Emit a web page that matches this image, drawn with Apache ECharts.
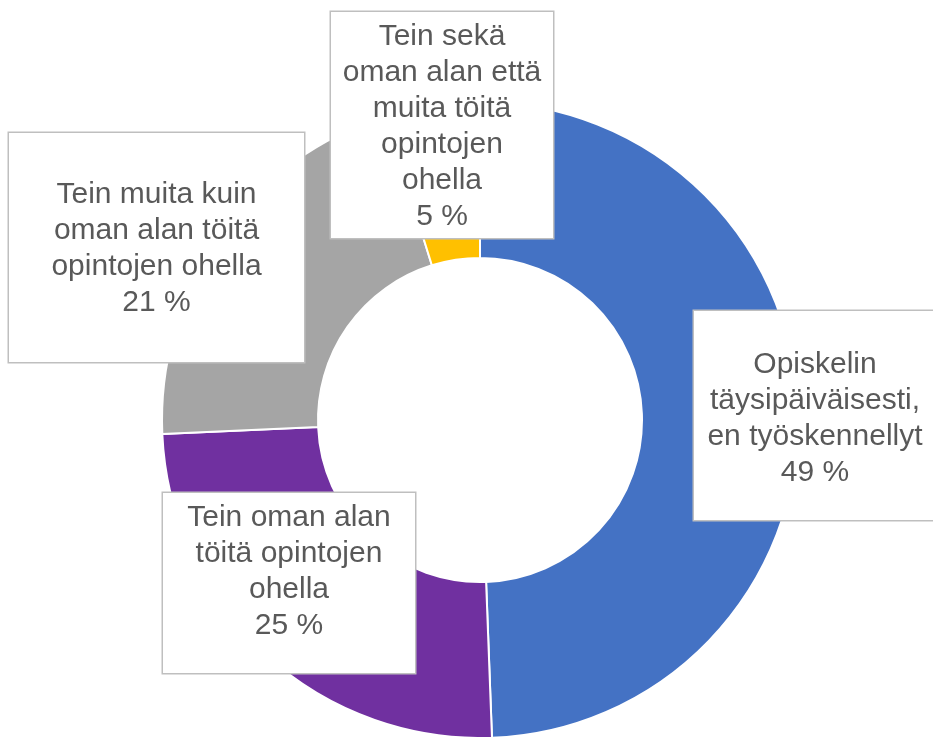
<!DOCTYPE html>
<html>
<head>
<meta charset="utf-8">
<script src="https://cdn.jsdelivr.net/npm/echarts@6/dist/echarts.min.js"></script>
<style>
html,body{margin:0;padding:0;background:#fff;}
#chart{width:933px;height:737px;}
</style>
</head>
<body>
<div id="chart"></div>
<script>
// Data
const categories = [
  'Opiskelin\ntäysipäiväisesti,\nen työskennellyt',
  'Tein oman alan\ntöitä opintojen\nohella',
  'Tein muita kuin\noman alan töitä\nopintojen ohella',
  'Tein sekä\noman alan että\nmuita töitä\nopintojen\nohella'
];
const values = [49.4, 24.9, 20.9, 4.8];

// Styles / positions (not data)
const colors = ['#4472C4', '#7030A0', '#A5A5A5', '#FFC000'];
const labelBoxes = [
  { x: 694, y: 311, w: 242, pt: 36, pb: 29 },
  { x: 163, y: 493, w: 252, pt: 7, pb: 29 },
  { x: 9,   y: 133, w: 295, pt: 44, pb: 41 },
  { x: 331, y: 12,  w: 222, pt: 7, pb: 3 }
];

const chart = echarts.init(document.getElementById('chart'), null, { renderer: 'canvas' });

const data = categories.map((name, i) => ({
  name: name,
  value: values[i],
  itemStyle: { color: colors[i] },
  label: {
    width: labelBoxes[i].w,
    padding: [labelBoxes[i].pt, 0, labelBoxes[i].pb, 0]
  }
}));

chart.setOption({
  animation: false,
  backgroundColor: '#fff',
  series: [{
    type: 'pie',
    center: [480, 420],
    radius: [162, 318],
    startAngle: 90,
    clockwise: true,
    avoidLabelOverlap: false,
    itemStyle: { borderColor: '#fff', borderWidth: 2 },
    label: {
      show: true,
      position: 'inside',
      formatter: p => p.name + '\n' + Math.round(p.value) + ' %',
      fontFamily: 'Liberation Sans',
      fontSize: 30,
      lineHeight: 36,
      color: '#595959',
      align: 'center',
      backgroundColor: '#fff',
      borderColor: '#BFBFBF',
      borderWidth: 1.5,
      overflow: 'none'
    },
    labelLine: { show: false },
    emphasis: { disabled: true },
    labelLayout: function (params) {
      const b = labelBoxes[params.dataIndex];
      return { x: b.x + b.w / 2, y: b.y, align: 'center', verticalAlign: 'top' };
    },
    data: data
  }]
});
</script>
</body>
</html>
